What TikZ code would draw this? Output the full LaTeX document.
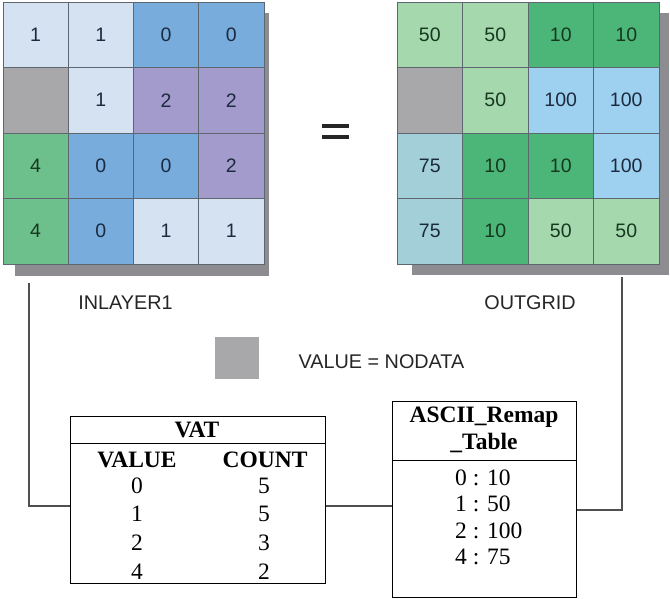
\documentclass[tikz,border=0pt]{standalone}
\usepackage{fontspec}
\setmainfont{Liberation Serif}
\newfontfamily\arialf{Liberation Sans}
\definecolor{cL}{HTML}{D5E2F1}
\definecolor{cB}{HTML}{78ACDD}
\definecolor{cP}{HTML}{A39BCB}
\definecolor{cG}{HTML}{6DBF8B}
\definecolor{cN}{HTML}{A8A8AA}
\definecolor{cLG}{HTML}{A6D8AE}
\definecolor{cDG}{HTML}{4BB678}
\definecolor{cLB}{HTML}{9ED0F0}
\definecolor{cT}{HTML}{A2CFD8}
\definecolor{shadowc}{HTML}{8D8C91}
\definecolor{gridline}{HTML}{5E6670}
\definecolor{numtxt}{HTML}{1C2A3F}
\definecolor{greentxt}{HTML}{16381F}
\definecolor{conn}{HTML}{505050}
\begin{document}
\begin{tikzpicture}[x=1pt,y=-1pt,
  cell/.style={draw=gridline, line width=0.8pt, minimum width=65.3pt, minimum height=65.5pt, inner sep=0pt,
    font=\arialf\fontsize{19.5}{22}\selectfont, text=numtxt},
  lbl/.style={font=\arialf\fontsize{19.8}{22}\selectfont, text=black!85, inner sep=0pt},
  tbox/.style={draw=black, line width=1pt, inner sep=0pt},
  ttxt/.style={font=\fontsize{23.5}{27}\selectfont, inner sep=0pt},
  thead/.style={font=\bfseries\fontsize{23.5}{27}\selectfont, inner sep=0pt},
  connector/.style={draw=conn, line width=1.3pt}]
\useasboundingbox (0,0) rectangle (670,598);
% shadows
\fill[shadowc] (15,13) rectangle (269,276);
\fill[shadowc] (412,13) rectangle (669,275);
% left grid
\foreach \r/\c/\f/\tc/\t in {1/1/cL/numtxt/1,1/2/cL/numtxt/1,1/3/cB/numtxt/0,1/4/cB/numtxt/0,
  2/1/cN/numtxt/,2/2/cL/numtxt/1,2/3/cP/numtxt/2,2/4/cP/numtxt/2,
  3/1/cG/greentxt/4,3/2/cB/numtxt/0,3/3/cB/numtxt/0,3/4/cP/numtxt/2,
  4/1/cG/greentxt/4,4/2/cB/numtxt/0,4/3/cL/numtxt/1,4/4/cL/numtxt/1}
  \node[cell, fill=\f, text=\tc] (in-\r-\c) at ({3+(\c-0.5)*65.25},{2+(\r-0.5)*65.5}) {\t};
% right grid
\foreach \r/\c/\f/\tc/\t in {1/1/cLG/greentxt/50,1/2/cLG/greentxt/50,1/3/cDG/greentxt/10,1/4/cDG/greentxt/10,
  2/1/cN/numtxt/,2/2/cLG/greentxt/50,2/3/cLB/numtxt/100,2/4/cLB/numtxt/100,
  3/1/cT/numtxt/75,3/2/cDG/greentxt/10,3/3/cDG/greentxt/10,3/4/cLB/numtxt/100,
  4/1/cT/numtxt/75,4/2/cDG/greentxt/10,4/3/cLG/greentxt/50,4/4/cLG/greentxt/50}
  \node[cell, fill=\f, text=\tc] (out-\r-\c) at ({397+(\c-0.5)*65.5},{2+(\r-0.5)*65.5}) {\t};
% equals sign
\draw[line width=3.3pt, black!85] (322,126) -- (349,126);
\draw[line width=3.3pt, black!85] (322,137) -- (349,137);
% labels
\node[lbl] (inlabel) at (125.5,303) {INLAYER1};
\node[lbl] (outlabel) at (530,303) {OUTGRID};
\node[fill=cN, minimum width=44pt, minimum height=42pt, inner sep=0pt] (legend) at (237,358) {};
\node[lbl] (legendtxt) at (381.5,362) {VALUE = NODATA};
% VAT table
\node[tbox, minimum width=254.3pt, minimum height=167pt] (vat) at (197.85,499.5) {};
\draw[line width=1pt] (vat.west |- 0,443) -- (vat.east |- 0,443);
\node[thead] (vattitle) at (197,430) {VAT};
\node[thead] (vatvalue) at (137,460) {VALUE};
\node[thead] (vatcount) at (265,460) {COUNT};
\foreach \y/\a/\b [count=\i] in {486/0/5,514/1/5,543/2/3,572/4/2} {
  \node[ttxt] (v\i) at (137,\y) {\a};
  \node[ttxt] (c\i) at (264,\y) {\b};
}
% ASCII remap table
\node[tbox, minimum width=184pt, minimum height=196pt] (ascii) at (484,499) {};
\draw[line width=1pt] (ascii.west |- 0,460) -- (ascii.east |- 0,460);
\node[thead] (asciit1) at (484,417) {ASCII\_Remap};
\node[thead] (asciit2) at (484,443) {\_Table};
\foreach \y/\t [count=\i] in {478/0 : 10,504/1 : 50,531/2 : 100,557/4 : 75}
  \node[ttxt, anchor=west] (r\i) at (455,\y) {\t};
% connectors
\coordinate (lefttop) at (29,283);
\coordinate (righttop) at (622,277);
\draw[connector] (lefttop) |- ([yshift=-6.5pt]vat.west);
\draw[connector] ([yshift=-6.5pt]vat.east) -- ([yshift=-7pt]ascii.west);
\draw[connector] ([yshift=-11pt]ascii.east) -| (righttop);
\end{tikzpicture}
\end{document}
